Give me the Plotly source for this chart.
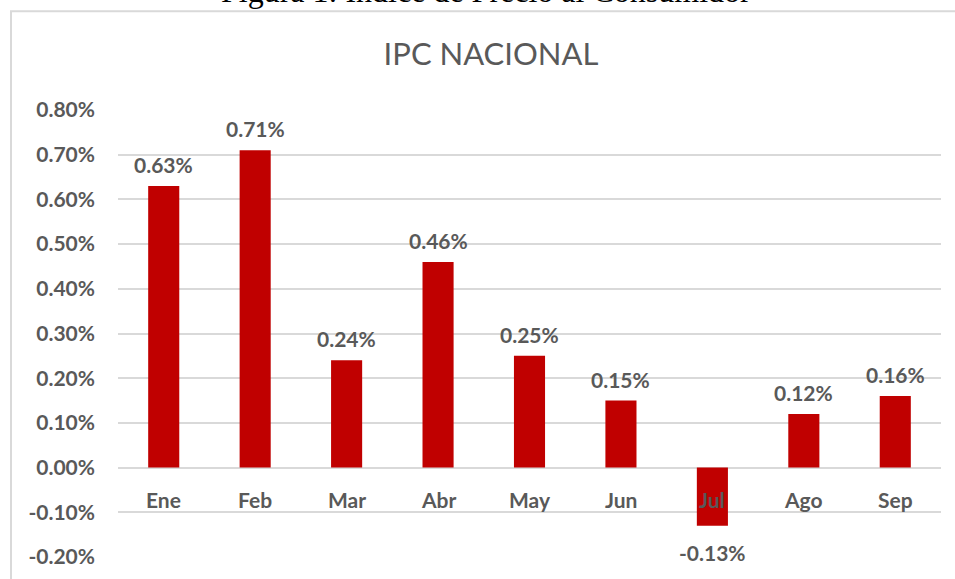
import plotly.graph_objects as go

# monthly national CPI change (%)
months = ['Ene', 'Feb', 'Mar', 'Abr', 'May', 'Jun', 'Jul', 'Ago', 'Sep']
ipc = [0.63, 0.71, 0.24, 0.46, 0.25, 0.15, -0.13, 0.12, 0.16]
y_ticks = [-0.2, -0.1, 0.0, 0.1, 0.2, 0.3, 0.4, 0.5, 0.6, 0.7, 0.8]

caption = 'Figura 1: Índice de Precio al Consumidor'
title = 'IPC NACIONAL'

GRAY = '#595959'
RED = '#C00000'
FONT = 'Lato'

fig = go.Figure(go.Bar(x=months, y=ipc, marker=dict(color=RED, line=dict(width=0))))

annotations = []
# data labels above (or below) each bar
for m, v in zip(months, ipc):
    annotations.append(dict(
        x=m, y=v, xref='x', yref='y', text=f'{v:.2f}%', showarrow=False,
        yanchor='bottom' if v >= 0 else 'top', yshift=7 if v >= 0 else -12,
        font=dict(family=FONT, size=21, color=GRAY, weight='bold')))
# category labels sit just under the zero line
for m in months:
    annotations.append(dict(
        x=m, y=-0.0715, xref='x', yref='y', text=m, showarrow=False,
        yanchor='middle', font=dict(family=FONT, size=21, color=GRAY, weight='bold')))
# caption cut off at the top of the page
annotations.append(dict(
    x=(486 - 118) / 823, y=1.267, xref='paper', yref='paper', text=caption,
    showarrow=False, yanchor='middle',
    font=dict(family='Liberation Serif', size=32, color='black')))

fig.update_layout(
    width=955, height=579,
    margin=dict(l=118, r=14, t=110, b=21.5),
    paper_bgcolor='white', plot_bgcolor='white',
    bargap=0.66,
    showlegend=False,
    title=dict(text=title, x=(491 - 118) / 823, xref='paper', xanchor='center',
               y=1 - 54 / 579, yanchor='middle',
               font=dict(family=FONT, size=31, color=GRAY)),
    annotations=annotations,
    shapes=[dict(type='rect', xref='paper', yref='paper', x0=-0.13, x1=1.1,
                 y0=-0.2, y1=1.221, line=dict(color='#D9D9D9', width=2),
                 layer='below')],
)
fig.update_xaxes(showticklabels=False, showgrid=False, zeroline=False, showline=False)
fig.update_yaxes(range=[-0.2, 0.8], tickvals=y_ticks,
                 ticktext=[f'{t:.2f}%' for t in y_ticks],
                 tickfont=dict(family=FONT, size=21, color=GRAY, weight='bold'),
                 ticklabelstandoff=22,
                 showgrid=True, gridcolor='#D9D9D9', gridwidth=1.5,
                 zeroline=True, zerolinecolor='#D9D9D9', zerolinewidth=1.5,
                 showline=False)

# drop the default page margin so the figure sits at the window's corner
fig.write_html('out.html', config={'displayModeBar': False},
               post_script="document.body.style.margin='0';"
                           "document.body.style.overflow='hidden';")
